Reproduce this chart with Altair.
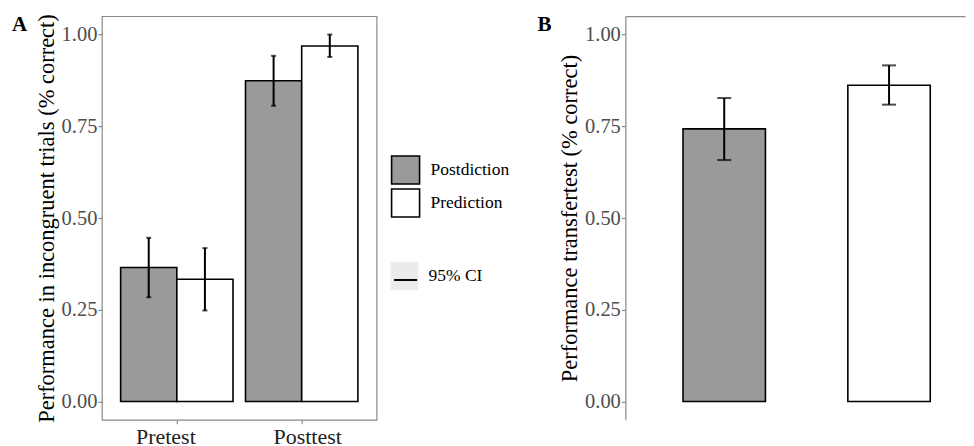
import altair as alt
import pandas as pd

# ---------------- data ----------------
phase = ["Pretest", "Pretest", "Posttest", "Posttest"]
group_a = ["Postdiction", "Prediction", "Postdiction", "Prediction"]
mean_a = [0.365, 0.333, 0.874, 0.969]
lo_a = [0.284, 0.248, 0.806, 0.939]
hi_a = [0.446, 0.418, 0.942, 1.000]

group_b = ["Postdiction", "Prediction"]
mean_b = [0.743, 0.862]
lo_b = [0.658, 0.809]
hi_b = [0.827, 0.916]

groups = ["Postdiction", "Prediction"]
phases = ["Pretest", "Posttest"]
fills = ["#9a9a9a", "#ffffff"]
y_ticks = [0.0, 0.25, 0.5, 0.75, 1.0]
ci_label = ["95% CI"]
ci_line_label = ["95% CI line"]
tag_a = ["A"]
tag_b = ["B"]

SERIF = "Liberation Serif"
GRAY = "#8a8a8a"

dfa = pd.DataFrame({"Phase": phase, "Group": group_a, "mean": mean_a, "lo": lo_a, "hi": hi_a,
                    "ci_key": ci_label * len(phase), "ci_line": ci_line_label * len(phase)})
dfb = pd.DataFrame({"Group": group_b, "mean": mean_b, "lo": lo_b, "hi": hi_b})

yscale = alt.Scale(domain=[-0.05, 1.05], nice=False, zero=False)
fill_scale = alt.Scale(domain=groups, range=fills)


def y_axis(title, domain):
    return alt.Axis(values=y_ticks, format=".2f", title=title, grid=False,
                    domain=domain, domainColor=GRAY, domainWidth=1.2,
                    labelFontSize=20.5, labelColor="#4d4d4d", labelPadding=1,
                    titleFontSize=22.5, titleColor="black", titleFontWeight="normal",
                    titlePadding=3, tickColor=GRAY, tickSize=4, tickWidth=1.2)


def x_axis(first, off_first, off_other, domain):
    return alt.Axis(title=None, labelAngle=0, labelFontSize=22, labelColor="#222222",
                    labelOffset={"condition": {"test": f"datum.value === '{first}'", "value": off_first},
                                 "value": off_other},
                    domain=domain, domainColor=GRAY, domainWidth=1.2,
                    tickColor=GRAY, tickSize=4, tickWidth=1.2, labelPadding=3)


def ci_legend(ly, **kw):
    return alt.Legend(title=None, orient="none", legendX=289, legendY=ly,
                      symbolSize=784, labelFont=SERIF, labelFontSize=17.5,
                      labelColor="black", labelOffset=10, padding=0, **kw)


# ---------------- panel A ----------------
xa_scale = alt.Scale(paddingInner=0.1, paddingOuter=0.15)
xa = alt.X("Phase:N", sort=phases, scale=xa_scale, axis=x_axis("Pretest", -11, 6, False))
xoff = alt.XOffset("Group:N", sort=groups, scale=alt.Scale(paddingInner=0, paddingOuter=0))

bars_a = alt.Chart(dfa).mark_bar(stroke="black", strokeWidth=1.6).encode(
    x=xa,
    xOffset=xoff,
    y=alt.Y("mean:Q", scale=yscale,
            axis=y_axis("Performance in incongruent trials (% correct)", False)),
    y2=alt.datum(0),
    fill=alt.Fill("Group:N", scale=fill_scale,
                  legend=alt.Legend(title=None, orient="none", legendX=289, legendY=139,
                                    symbolType="square", symbolSize=784,
                                    symbolStrokeColor="black", symbolStrokeWidth=1.6,
                                    labelFont=SERIF, labelFontSize=17.5, labelColor="black",
                                    labelOffset=10, rowPadding=-8, padding=0)),
    opacity=alt.Opacity("ci_key:N",
                        scale=alt.Scale(domain=ci_label, range=[1]),
                        legend=ci_legend(246, symbolType="square", symbolFillColor="#ebebeb",
                                         symbolStrokeColor="#ebebeb", symbolStrokeWidth=0)),
)

rules_a = alt.Chart(dfa).mark_rule(color="black", strokeWidth=2).encode(
    x=alt.X("Phase:N", sort=phases),
    xOffset=alt.XOffset("Group:N", sort=groups),
    y=alt.Y("lo:Q", scale=yscale),
    y2="hi:Q",
    strokeDash=alt.StrokeDash("ci_line:N",
                              scale=alt.Scale(domain=ci_line_label, range=[[1, 0]]),
                              legend=ci_legend(249, symbolType="M-0.82,0H0.82", symbolStrokeColor="black",
                                               symbolStrokeWidth=2, labelExpr="''")),
)

caps_a = alt.Chart(dfa).transform_fold(["lo", "hi"], as_=["end", "val"]).mark_tick(
    color="black", size=5, thickness=2).encode(
    x=alt.X("Phase:N", sort=phases),
    xOffset=alt.XOffset("Group:N", sort=groups),
    y=alt.Y("val:Q", scale=yscale),
)

text_a = alt.Chart(pd.DataFrame({"t": tag_a})).mark_text(
    font=SERIF, fontSize=21, fontWeight="bold", align="left", baseline="top", color="black").encode(
    text="t:N", x=alt.value(-90), y=alt.value(-2))

panel_a = alt.layer(bars_a, rules_a, caps_a, text_a).properties(width=275, height=404)

# ---------------- panel B ----------------
xb_scale = alt.Scale(paddingInner=0.5, paddingOuter=0.2803, align=0.624)

bars_b = alt.Chart(dfb).mark_bar(stroke="black", strokeWidth=1.6).encode(
    x=alt.X("Group:N", sort=groups, scale=xb_scale, axis=x_axis("Postdiction", -10, 13, True)),
    y=alt.Y("mean:Q", scale=yscale, axis=y_axis("Performance transfertest (% correct)", True)),
    y2=alt.datum(0),
    fill=alt.Fill("Group:N", scale=fill_scale, legend=None),
)

rules_b = alt.Chart(dfb).mark_rule(color="black", strokeWidth=2).encode(
    x=alt.X("Group:N", sort=groups,
            axis=alt.Axis(orient="top", labels=False, ticks=False, title=None,
                          domain=True, domainColor=GRAY, domainWidth=1.2)),
    y=alt.Y("lo:Q", scale=yscale),
    y2="hi:Q",
)

caps_b = alt.Chart(dfb).transform_fold(["lo", "hi"], as_=["end", "val"]).mark_tick(
    color="black", size=14, thickness=2).encode(
    x=alt.X("Group:N", sort=groups),
    y=alt.Y("val:Q", scale=yscale),
)

text_b = alt.Chart(pd.DataFrame({"t": tag_b})).mark_text(
    font=SERIF, fontSize=21, fontWeight="bold", align="left", baseline="top", color="black").encode(
    text="t:N", x=alt.value(-88), y=alt.value(-2))

panel_b = alt.layer(bars_b, rules_b, caps_b, text_b).properties(
    width=340, height=404, view=alt.ViewBackground(stroke="transparent"))

chart = alt.hconcat(panel_a, panel_b, spacing=249, bounds="flush").resolve_scale(
    fill="independent"
).properties(
    padding={"left": 3, "top": 4, "right": 0, "bottom": 0}
).configure(font=SERIF).configure_view(stroke=GRAY, strokeWidth=1.2)

chart.save("out.html", embed_options={"renderer": "svg", "actions": False})
